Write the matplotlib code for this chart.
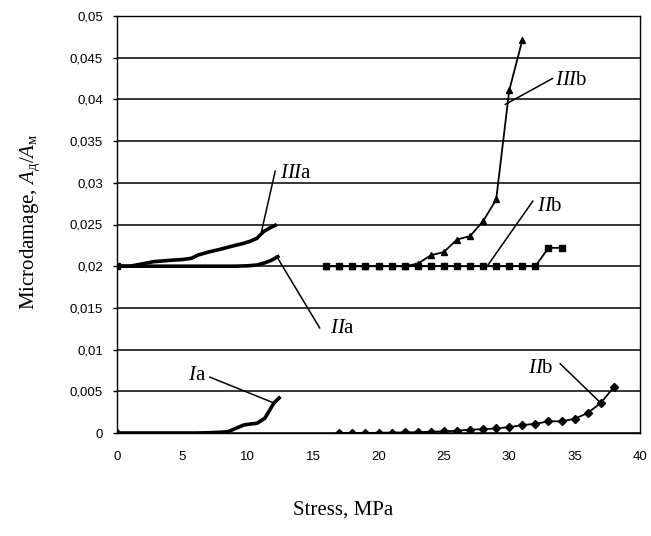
import matplotlib
matplotlib.use("Agg")
import matplotlib.pyplot as plt
from matplotlib.ticker import FuncFormatter

plt.rcParams['mathtext.fontset'] = 'custom'
plt.rcParams['mathtext.rm'] = 'Liberation Serif'
plt.rcParams['mathtext.it'] = 'Liberation Serif:italic'

# ---- data ----
Ia_x = [0, 2, 4, 6, 7, 8, 8.5, 9, 9.7, 10.2, 10.7, 11.3, 11.7, 12.0, 12.4]
Ia_y = [0, 0, 0, 0, 0.00003, 0.0001, 0.00016, 0.0005, 0.00096, 0.00108, 0.00116,
        0.00176, 0.0028, 0.0036, 0.0042]

IIa_x = [0, 2, 4, 6, 8, 9, 10, 10.7, 11.3, 11.8, 12.3]
IIa_y = [0.02, 0.02, 0.02, 0.02, 0.02, 0.02, 0.02005, 0.02014, 0.0204, 0.0207, 0.02114]

IIIa_x = [0, 1, 2, 2.8, 4, 5, 5.7, 6.2, 7, 7.9, 8.8, 9.7, 10.2, 10.7, 11.2, 11.7, 12.1]
IIIa_y = [0.02, 0.02, 0.0203, 0.02054, 0.0207, 0.0208, 0.02095, 0.02134, 0.0217,
          0.02203, 0.0224, 0.02275, 0.0230, 0.02334, 0.02414, 0.0246, 0.0249]

IIb_x = [16, 17, 18, 19, 20, 21, 22, 23, 24, 25, 26, 27, 28, 29, 30, 31, 32, 33, 34]
IIb_y = [0.02] * 17 + [0.0222, 0.0222]

IIIb_x = [16, 17, 18, 19, 20, 21, 22, 23, 24, 25, 26, 27, 28, 29, 30, 31]
IIIb_y = [0.02, 0.02, 0.02, 0.02, 0.02, 0.02, 0.02, 0.0203, 0.0213, 0.0217, 0.0232,
          0.0236, 0.0254, 0.0280, 0.0411, 0.0471]

Ib_x = list(range(17, 39))
Ib_y = [0, 0, 0, 0.00003, 0.00005, 0.00007, 0.0001, 0.00015, 0.0002, 0.00027, 0.0004,
        0.00045, 0.00055, 0.0007, 0.00095, 0.0011, 0.0014, 0.0014, 0.0017, 0.0024,
        0.0036, 0.0055]

xticks = [0, 5, 10, 15, 20, 25, 30, 35, 40]
yticks = [0, 0.005, 0.01, 0.015, 0.02, 0.025, 0.03, 0.035, 0.04, 0.045, 0.05]

# ---- figure ----
fig = plt.figure(figsize=(6.51, 5.36), dpi=100)
ax = fig.add_axes([117/651, 1 - 433/536, (640 - 117)/651, (433 - 16)/536])

for y in yticks:
    ax.axhline(y, color='black', lw=1.1, zorder=1)

ax.plot(Ia_x, Ia_y, color='black', lw=2.6, zorder=3)
ax.plot([Ia_x[0]], [Ia_y[0]], marker='D', ms=4.5, color='black', zorder=4)
ax.plot(IIa_x, IIa_y, color='black', lw=2.6, zorder=3)
ax.plot(IIIa_x, IIIa_y, color='black', lw=2.6, zorder=3)
ax.plot([IIa_x[0]], [IIa_y[0]], marker='s', ms=4.5, color='black', zorder=4)
ax.plot(IIIb_x, IIIb_y, color='black', lw=1.3, marker='^', ms=5, zorder=3)
ax.plot(IIb_x, IIb_y, color='black', lw=1.3, marker='s', ms=4.5, zorder=3)
ax.plot(Ib_x, Ib_y, color='black', lw=1.3, marker='D', ms=4, zorder=3)

ax.set_xlim(0, 40)
ax.set_ylim(0, 0.05)
ax.set_xticks(xticks)
ax.set_yticks(yticks)

def comma(v, pos):
    s = ('%g' % v)
    return s.replace('.', ',')

ax.xaxis.set_major_formatter(FuncFormatter(comma))
ax.yaxis.set_major_formatter(FuncFormatter(comma))
ax.tick_params(axis='x', length=0, pad=13, labelsize=9.5)
ax.tick_params(axis='y', length=3, direction='out', pad=7, labelsize=9.5, width=1)
for lab in ax.get_xticklabels() + ax.get_yticklabels():
    lab.set_fontfamily('Liberation Sans')
for sp in ax.spines.values():
    sp.set_color('black')
    sp.set_linewidth(1.0)

# annotations
serif = 'Liberation Serif'
def label(txt, tx, ty, x0, y0, x1, y1):
    ax.text(tx, ty, txt, fontsize=15, ha='left', va='center', family=serif, zorder=6)
    ax.plot([x0, x1], [y0, y1], color='black', lw=1.1, zorder=5)

label(r'$\mathit{III}\mathrm{a}$', 12.5, 0.0311, 12.1, 0.0314, 11.0, 0.0238)
label(r'$\mathit{II}\mathrm{a}$', 16.3, 0.0125, 12.2, 0.0212, 15.5, 0.0126)
label(r'$\mathit{I}\mathrm{a}$', 5.4, 0.0069, 7.1, 0.0067, 12.0, 0.0036)
label(r'$\mathit{III}\mathrm{b}$', 33.5, 0.0423, 33.3, 0.0425, 29.7, 0.0394)
label(r'$\mathit{II}\mathrm{b}$', 32.1, 0.0272, 31.8, 0.0278, 28.4, 0.0202)
label(r'$\mathit{II}\mathrm{b}$', 31.4, 0.0077, 33.9, 0.0083, 37.0, 0.0036)

fig.text(30/651, 1 - 222/536,
         'Microdamage, ' + r'$\mathit{A}_{\mathrm{д}}/\mathit{A}_{\mathrm{м}}$',
         rotation=90, ha='center', va='center', fontsize=15, family=serif)
fig.text(343/651, 1 - 510/536, 'Stress, MPa', ha='center', va='center',
         fontsize=15, family=serif)

fig.savefig('out.png', dpi=100)
